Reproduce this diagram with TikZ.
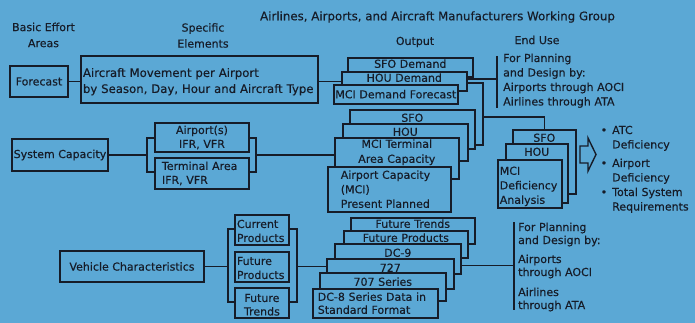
\documentclass[tikz,border=0pt]{standalone}
\usepackage{fontspec}
\setmainfont{DejaVu Sans}[FakeBold=0.35]
\usetikzlibrary{positioning}
\definecolor{paper}{HTML}{5BA8D5}
\definecolor{ink}{HTML}{161C28}

\tikzset{
  effort/.style={draw=ink, line width=2.2pt, inner sep=0pt, text=ink},
  element/.style={draw=ink, line width=1.9pt, anchor=north west, inner sep=0pt, text=ink},
  card/.style={draw=ink, line width=1.6pt, fill=paper, anchor=north west, inner sep=0pt,
               text=ink, align=center},
  link/.style={draw=ink, line width=1.2pt},
  note/.style={text=ink, anchor=base west, inner sep=0pt, align=left},
}

\begin{document}
\begin{tikzpicture}[x=1pt, y=-1pt, font=\fontsize{11}{14.5}\selectfont]
  \useasboundingbox[fill=paper] (0,0) rectangle (695,323);

  % headings
  \node[text=ink, font=\fontsize{11.8}{14}\selectfont] (title) at (437.5,17)
    {Airlines, Airports, and Aircraft Manufacturers Working Group};
  \node[text=ink, align=center] (hdarea) at (43.5,35) {Basic Effort\\[1.5pt]Areas};
  \node[text=ink, align=center] (hdelem) at (203,35.5) {Specific\\[1.5pt]Elements};
  \node[text=ink] (hdout) at (415,42) {Output};
  \node[text=ink] (hduse) at (537,40) {End Use};

  % forecast row
  \node[effort, minimum width=58pt, minimum height=31pt] (fcst) at (39,81.5) {Forecast};
  \node[element, text width=233pt, minimum width=237pt, align=left, text height=21pt,
        text depth=26pt, font=\fontsize{11.7}{15}\selectfont] (elem) at (80,55)
    {Aircraft Movement per Airport\\[1pt]by Season, Day, Hour and Aircraft Type};
  \node[card, text width=125pt, text height=10pt, text depth=9pt] (sfodem) at (347,57) {SFO Demand};
  \node[card, text width=125pt, text height=10pt, text depth=9pt] (houdem) at (341,71) {HOU Demand};
  \node[card, text width=124pt, text height=13.5pt, text depth=5.5pt] (mcidem) at (333,84) {MCI Demand Forecast};
  \node[note, text width=150pt] (usedem) at (503,62)
    {For Planning\\and Design by:\\Airports through AOCI\\Airlines through ATA};

  % system capacity row
  \node[effort, minimum width=96pt, minimum height=32pt] (syscap) at (60,155) {System Capacity};
  \node[element, text width=94pt, align=center, text height=11pt, text depth=18pt] (airp) at (154,122)
    {Airport(s)\\[-0.5pt]IFR, VFR};
  \node[element, text width=80pt, minimum width=94pt, align=left, text height=12pt,
        text depth=19pt] (term) at (154,157) {Terminal Area\\[-0.5pt]IFR, VFR};
  \node[card, text width=125pt, text height=12pt, text depth=27pt] (capsfo) at (349,109) {SFO};
  \node[card, text width=125pt, text height=12pt, text depth=25pt] (caphou) at (342,123) {HOU};
  \node[card, text width=124pt, text height=10pt, text depth=31pt] (capmct) at (334,137)
    {MCI Terminal\\[0.5pt]Area Capacity};
  \node[card, text width=97pt, minimum width=123pt, align=left, text height=12pt,
        text depth=33pt] (capmci) at (327,166) {Airport Capacity\\(MCI)\\Present Planned};

  % deficiency analysis
  \node[card, text width=63pt, text height=12pt, text depth=52pt] (defsfo) at (512,129) {SFO};
  \node[card, text width=62pt, text height=12pt, text depth=47pt] (defhou) at (505,143) {HOU};
  \node[card, text width=60pt, minimum width=64pt, align=left, text height=15pt,
        text depth=33pt] (defmci) at (497,159) {MCI\\Deficiency\\Analysis};
  \draw[draw=ink, line width=1.4pt] (580,146) -- (588,146) -- (588,138) -- (596,154.5)
    -- (588,171) -- (588,163) -- (580,163) -- cycle;
  \node[note, text width=80pt] (atc) at (612,134) {\llap{\textbullet\hspace{5pt}}ATC\\Deficiency};
  \node[note, text width=80pt] (aptdef) at (612,167) {\llap{\textbullet\hspace{5pt}}Airport\\Deficiency};
  \node[note, text width=80pt] (totreq) at (612,196) {\llap{\textbullet\hspace{5pt}}Total System\\Requirements};

  % vehicle row
  \node[effort, minimum width=144pt, minimum height=31pt] (vehchar) at (132,266.5) {Vehicle Characteristics};
  \node[element, text width=50pt, minimum width=54pt, align=left, text height=13pt,
        text depth=17pt] (cur) at (234,214) {Current\\[-0.5pt]Products};
  \node[element, text width=50pt, minimum width=54pt, align=left, text height=13pt,
        text depth=17pt] (fut) at (234,251) {Future\\[-0.5pt]Products};
  \node[element, text width=54pt, align=center, text height=14pt, text depth=16pt] (trd) at (234,287)
    {Future\\[-1pt]Trends};
  \node[card, text width=124pt, text height=10pt, text depth=16pt] (vft) at (350,217) {Future Trends};
  \node[card, text width=124pt, text height=11pt, text depth=16pt] (vfp) at (343,230) {Future Products};
  \node[card, text width=126pt, text height=13pt, text depth=17pt] (vdc9) at (334,243) {DC-9};
  \node[card, text width=127pt, text height=13pt, text depth=17pt] (v727) at (326,258) {727};
  \node[card, text width=126pt, text height=13pt, text depth=15pt] (v707) at (319,272) {707 Series};
  \node[card, text width=115pt, minimum width=125pt, align=left, text height=12pt,
        text depth=17pt] (vdc8) at (312,288) {DC-8 Series Data in\\[-1.5pt]Standard Format};
  \node[note, text width=120pt, font=\fontsize{11}{13}\selectfont] (useveh) at (518,231)
    {For Planning\\and Design by:\\[6pt]Airports\\through AOCI\\[7pt]Airlines\\through ATA};

  % connectors: forecast and demand
  \draw[link] (fcst.east) -- (fcst.east -| elem.west);
  \draw[link] (fcst.east -| elem.east) -- (fcst.east -| houdem.west);
  \coordinate (demuse) at (497,79);
  \coordinate (dusetop) at (497,56);
  \coordinate (dusebot) at (497,108);
  \draw[link] (demuse -| houdem.east) -- (demuse);
  \draw[link] (dusetop) -- (dusebot);
  \coordinate (demcap) at (483,83);
  \coordinate (capin) at (483,145);
  \coordinate (defjoin) at (483,117);
  \draw[link] (demcap -| houdem.east) -- (demcap) -- (capin) -- (capin -| capsfo.east);
  \draw[link] (defjoin) -| (defsfo.north);

  % connectors: capacity
  \coordinate (captop) at (0,138);
  \coordinate (capbot) at (0,172);
  \coordinate (capl) at (147,0);
  \coordinate (capr) at (256,0);
  \draw[link] (syscap.east) -- (syscap.east -| capl);
  \draw[link] (airp.west |- captop) -| (capl |- capbot) -- (term.west |- capbot);
  \draw[link] (airp.east |- captop) -| (capr |- capbot) -- (term.east |- capbot);
  \draw[link] (syscap.east -| capr) -- (syscap.east -| capmct.west);

  % connectors: vehicles
  \coordinate (vehtop) at (0,229);
  \coordinate (vehbot) at (0,302);
  \coordinate (vehl) at (228,0);
  \coordinate (vehr) at (297,0);
  \draw[link] (vehchar.east) -- (vehchar.east -| vehl);
  \draw[link] (cur.west |- vehtop) -| (vehl |- vehbot) -- (trd.west |- vehbot);
  \draw[link] (cur.east |- vehtop) -| (vehr |- vehbot) -- (trd.east |- vehbot);
  \draw[link] (vehchar.east -| vehr) -- (vehchar.east -| v727.west);
  \coordinate (vehuse) at (514,265.5);
  \coordinate (vusetop) at (514,222);
  \coordinate (vusebot) at (514,310);
  \draw[link] (vehuse -| vdc9.east) -- (vehuse);
  \draw[link] (vusetop) -- (vusebot);
\end{tikzpicture}
\end{document}
